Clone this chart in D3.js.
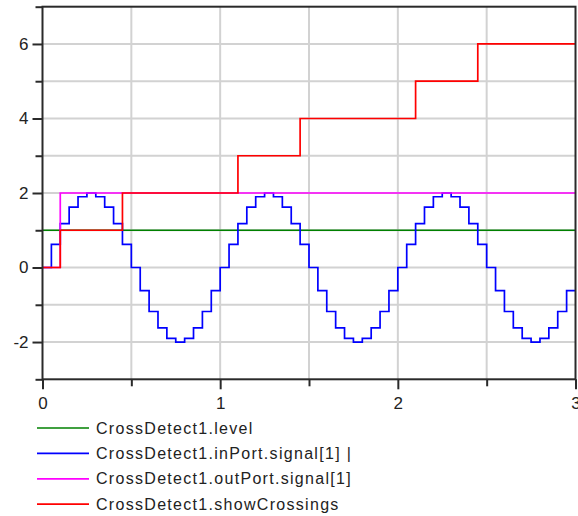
<!DOCTYPE html>
<html>
<head>
<meta charset="utf-8">
<script src="https://cdn.jsdelivr.net/npm/d3@7"></script>
<style>
  html, body { margin: 0; padding: 0; background: #fff; }
  svg { display: block; font-family: "Liberation Sans", Arial, sans-serif; }
</style>
</head>
<body>
<svg id="chart" width="578" height="516"></svg>
<script>
// Simulation output of the crossing detector (time in seconds)
const samplePeriod = 0.05;

// Sampled sine fed into the detector, held between samples (last value held to the end)
const inPortValues = [
  0, 0.62, 1.18, 1.62, 1.9, 2, 1.9, 1.62, 1.18, 0.62,
  0, -0.62, -1.18, -1.62, -1.9, -2, -1.9, -1.62, -1.18, -0.62,
  0, 0.62, 1.18, 1.62, 1.9, 2, 1.9, 1.62, 1.18, 0.62,
  0, -0.62, -1.18, -1.62, -1.9, -2, -1.9, -1.62, -1.18, -0.62,
  0, 0.62, 1.18, 1.62, 1.9, 2, 1.9, 1.62, 1.18, 0.62,
  0, -0.62, -1.18, -1.62, -1.9, -2, -1.9, -1.62, -1.18, -0.62,
  -0.62
];

// Threshold level
const levelTimes = [0, 3];
const levelValues = [1, 1];

// Detector output
const outPortTimes = [0, 0.1, 3];
const outPortValues = [0, 2, 2];

// Running count of crossings
const crossingTimes = [0, 0.1, 0.45, 1.1, 1.45, 2.1, 2.45, 3];
const crossingValues = [0, 1, 2, 3, 4, 5, 6, 6];

const seriesNames = [
  "CrossDetect1.level",
  "CrossDetect1.inPort.signal[1] |",
  "CrossDetect1.outPort.signal[1]",
  "CrossDetect1.showCrossings"
];
const seriesColors = ["#008000", "#0000ff", "#ff00ff", "#ff0000"];

const xMajorTicks = [0, 1, 2, 3];
const xMinorTicks = [0.5, 1.5, 2.5];
const xGridTicks = [0.5, 1, 1.5, 2, 2.5];
const yMajorTicks = [-2, 0, 2, 4, 6];
const yMinorTicks = [-3, -1, 1, 3, 5, 7];
const yGridTicks = [-2, -1, 0, 1, 2, 3, 4, 5, 6];

const svg = d3.select("#chart");
const plot = { left: 42.5, right: 575.5, top: 6.7, bottom: 379.3 };

const x = d3.scaleLinear().domain([0, 3]).range([plot.left, plot.right]);
const y = d3.scaleLinear().domain([-3, 7]).range([plot.bottom, plot.top]);

// Integer labels with a plain hyphen for negatives
const intLabel = d => String(Math.round(d));

// Grid
const grid = svg.append("g").attr("stroke", "#d2d2d2").attr("stroke-width", 2);
grid.selectAll("line.v").data(xGridTicks).join("line")
  .attr("x1", d => x(d)).attr("x2", d => x(d))
  .attr("y1", plot.top).attr("y2", plot.bottom);
grid.selectAll("line.h").data(yGridTicks).join("line")
  .attr("x1", plot.left).attr("x2", plot.right)
  .attr("y1", d => y(d)).attr("y2", d => y(d));

// Series
const toPoints = (ts, vs) => ts.map((t, i) => [t, vs[i]]);
const series = [
  toPoints(levelTimes, levelValues),
  inPortValues.map((v, i) => [i * samplePeriod, v]),
  toPoints(outPortTimes, outPortValues),
  toPoints(crossingTimes, crossingValues)
];
const line = d3.line().x(d => x(d[0])).y(d => y(d[1])).curve(d3.curveStepAfter);

svg.append("g").selectAll("path").data(series).join("path")
  .attr("d", line)
  .attr("fill", "none")
  .attr("stroke", (d, i) => seriesColors[i])
  .attr("stroke-width", 1.7);

// Frame
const axisColor = "#2a2a2a";
svg.append("rect")
  .attr("x", plot.left).attr("y", plot.top)
  .attr("width", plot.right - plot.left).attr("height", plot.bottom - plot.top)
  .attr("fill", "none").attr("stroke", axisColor).attr("stroke-width", 2);

function styleAxis(g) {
  g.select(".domain").remove();
  g.selectAll(".tick line").attr("stroke", axisColor).attr("stroke-width", 2);
  g.selectAll(".tick text").attr("fill", "#222").style("font-size", "17px");
}

svg.append("g").attr("transform", `translate(${plot.left},0)`)
  .call(d3.axisLeft(y).tickValues(yMajorTicks).tickSize(10).tickPadding(4)
    .tickFormat(intLabel))
  .call(styleAxis);
svg.append("g").attr("transform", `translate(${plot.left},0)`)
  .call(d3.axisLeft(y).tickValues(yMinorTicks).tickSize(7).tickFormat(""))
  .call(styleAxis);

svg.append("g").attr("transform", `translate(0,${plot.bottom})`)
  .call(d3.axisBottom(x).tickValues(xMajorTicks).tickSize(10).tickPadding(8)
    .tickFormat(intLabel))
  .call(styleAxis);
svg.append("g").attr("transform", `translate(0,${plot.bottom})`)
  .call(d3.axisBottom(x).tickValues(xMinorTicks).tickSize(7).tickFormat(""))
  .call(styleAxis);

// Legend
const legend = svg.append("g").selectAll("g").data(seriesNames).join("g")
  .attr("transform", (d, i) => `translate(37,${428 + i * 25.4})`);
legend.append("line")
  .attr("x1", 0).attr("x2", 52)
  .attr("stroke", (d, i) => seriesColors[i]).attr("stroke-width", 1.7);
legend.append("text")
  .attr("x", 59).attr("dy", "0.35em")
  .attr("fill", "#222")
  .style("font-size", "16px")
  .style("letter-spacing", "1.3px")
  .text(d => d);
</script>
</body>
</html>
